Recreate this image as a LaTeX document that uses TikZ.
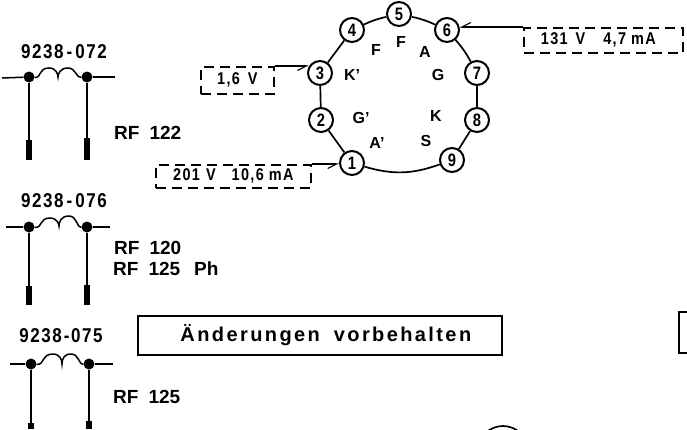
\documentclass[tikz,border=0pt]{standalone}
\usepackage{fontspec}
\setmainfont{Liberation Sans}
\newfontfamily\narrowf[FakeStretch=0.82]{Liberation Sans}
\newfontfamily\narrowsp[FakeStretch=0.85,LetterSpace=8]{Liberation Sans}
\newfontfamily\spacedf[LetterSpace=12]{Liberation Sans}
\usetikzlibrary{arrows.meta}
\tikzset{
 every node/.style={inner sep=0pt, text=black},
 pin/.style={circle, draw, line width=2pt, minimum size=24pt, fill=white, font=\fontsize{18}{19}\selectfont\narrowf\bfseries},
 ring/.style={line width=1.7pt},
 wire/.style={line width=1.5pt},
 leg/.style={line width=1.9pt},
 tip/.style={line width=6.5pt},
 dot/.style={circle, fill=black, minimum size=11pt},
 dashbox/.style={draw, dash pattern=on 10pt off 6pt, line width=1.7pt, anchor=north west, font=\fontsize{17}{18}\selectfont\narrowsp\bfseries},
 partno/.style={font=\fontsize{20}{21}\selectfont\narrowsp\bfseries},
 rflabel/.style={anchor=west, font=\fontsize{19}{20}\selectfont\bfseries},
 inner/.style={font=\fontsize{16}{17}\selectfont\bfseries},
 barb/.style={-{Straight Barb[harpoon,swap,length=9pt,width=9pt,line width=1.1pt]}, line width=1.7pt},
}
\begin{document}
\begin{tikzpicture}[x=1pt,y=-1pt]
\useasboundingbox (0,0) rectangle (687,429);
% ring
\node[pin] (p1) at (352,163) {1};
\node[pin] (p2) at (321,120) {2};
\node[pin] (p3) at (320,73) {3};
\node[pin] (p4) at (352,30) {4};
\node[pin] (p5) at (399,14) {5};
\node[pin] (p6) at (447,30) {6};
\node[pin] (p7) at (477,73) {7};
\node[pin] (p8) at (477,120) {8};
\node[pin] (p9) at (452,160) {9};
\draw[ring] (p1) -- (p2);
\draw[ring] (p2) -- (p3);
\draw[ring] (p3) -- (p4);
\draw[ring] (p4) to[bend left=6] (p5);
\draw[ring] (p5) to[bend left=6] (p6);
\draw[ring] (p6) to[bend left=6] (p7);
\draw[ring] (p7) -- (p8);
\draw[ring] (p8) -- (p9);
\draw[ring] (p9) to[bend left=18] (p1);
% electrode letters
\node[inner] (lF1) at (376,50) {F};
\node[inner] (lF2) at (401,42) {F};
\node[inner] (lA) at (425,52) {A};
\node[inner] (lG) at (438,75) {G};
\node[inner] (lK) at (436,116) {K};
\node[inner] (lS) at (426,141) {S};
\node[inner] (lA2) at (377,143) {A'};
\node[inner] (lG2) at (361,118) {G'};
\node[inner] (lK2) at (352,75) {K'};
% dashed boxes
\node[dashbox, minimum width=73pt, minimum height=27pt] (b3) at (200,66) {1,6\hspace{8pt}V};
\node[dashbox, minimum width=155pt, minimum height=23pt] (b1) at (155,164) {201\hspace{6pt}V\hspace{16pt}10,6\hspace{5pt}mA};
\node[dashbox, minimum width=159pt, minimum height=25pt] (b6) at (523,27) {131\hspace{8pt}V\hspace{18pt}4,7\hspace{5pt}mA\kern10pt};
\draw[barb] (b3.north east) -- (b3.north east -| p3.150);
\draw[barb] (b1.north east) -- (b1.north east -| p1.west);
\draw[barb] (b6.north west) -- (b6.north west -| p6.16);
% inductor 1
\node[partno] (n1) at (64,52) {9238\hspace{3pt}-\hspace{3pt}072};
\node[dot] (a1) at (29,77) {};
\node[dot] (c1) at (87,77) {};
\coordinate (l1) at (2,78);
\coordinate (r1) at (115,77);
\coordinate (af1) at (29,160);
\coordinate (as1) at (29,140);
\coordinate (cf1) at (87,160);
\coordinate (cs1) at (87,138);
\draw[wire] (l1) -- (a1);
\draw[wire] (c1) -- (r1);
\draw[wire] (a1) .. controls (42,78) and (38,68) .. (49,68) .. controls (56,68) and (58,74) .. (58,77) .. controls (58,74) and (60,68) .. (68,68) .. controls (76,68) and (76,78) .. (c1);
\draw[leg] (a1) -- (af1);
\draw[leg] (c1) -- (cf1);
\draw[tip] (as1) -- (af1);
\draw[tip] (cs1) -- (cf1);
\node[rflabel] (t1) at (114,133) {RF\hspace{10pt}122};
% inductor 2
\node[partno] (n2) at (64,201) {9238\hspace{3pt}-\hspace{3pt}076};
\node[dot] (a2) at (29,227) {};
\node[dot] (c2) at (87,227) {};
\coordinate (l2) at (6,227);
\coordinate (r2) at (110,227);
\coordinate (af2) at (29,305);
\coordinate (as2) at (29,286);
\coordinate (cf2) at (87,305);
\coordinate (cs2) at (87,285);
\draw[wire] (l2) -- (a2);
\draw[wire] (c2) -- (r2);
\draw[wire] (a2) .. controls (43,228) and (39,218) .. (50,218) .. controls (57,218) and (59,224) .. (59,226) .. controls (59,222) and (61,216) .. (69,216) .. controls (77,216) and (77,228) .. (c2);
\draw[leg] (a2) -- (af2);
\draw[leg] (c2) -- (cf2);
\draw[tip] (as2) -- (af2);
\draw[tip] (cs2) -- (cf2);
\node[rflabel] (t2) at (114,248) {RF\hspace{10pt}120};
\node[rflabel] (t3) at (113,269) {RF\hspace{10pt}125\hspace{14pt}Ph};
% inductor 3
\node[partno] (n3) at (61,336) {9238\hspace{2pt}-075};
\node[dot] (a3) at (31,364) {};
\node[dot] (c3) at (89,364) {};
\coordinate (l3) at (10,364);
\coordinate (r3) at (113,364);
\coordinate (af3) at (31,429);
\coordinate (as3) at (31,423);
\coordinate (cf3) at (89,429);
\coordinate (cs3) at (89,421);
\draw[wire] (l3) -- (a3);
\draw[wire] (c3) -- (r3);
\draw[wire] (a3) .. controls (45,365) and (41,354) .. (53,354) .. controls (60,354) and (62,360) .. (62,364) .. controls (62,359) and (64,354) .. (71,354) .. controls (79,354) and (79,365) .. (c3);
\draw[leg] (a3) -- (af3);
\draw[leg] (c3) -- (cf3);
\draw[tip] (as3) -- (af3);
\draw[tip] (cs3) -- (cf3);
\node[rflabel] (t4) at (113,397) {RF\hspace{10pt}125};
% notice box
\node[draw, line width=1.7pt, minimum width=364pt, minimum height=39pt, anchor=north west, font=\fontsize{20}{21}\selectfont\spacedf\bfseries] (hint) at (137,315) {\hspace*{12pt}Änderungen\hspace{14pt}vorbehalten};
% partial shapes at the edges
\draw[line width=1.7pt] (687,312) -- (679,312) -- (679,353) -- (687,353);
\draw[line width=1.7pt] (503,451) circle (25pt);
\end{tikzpicture}
\end{document}
